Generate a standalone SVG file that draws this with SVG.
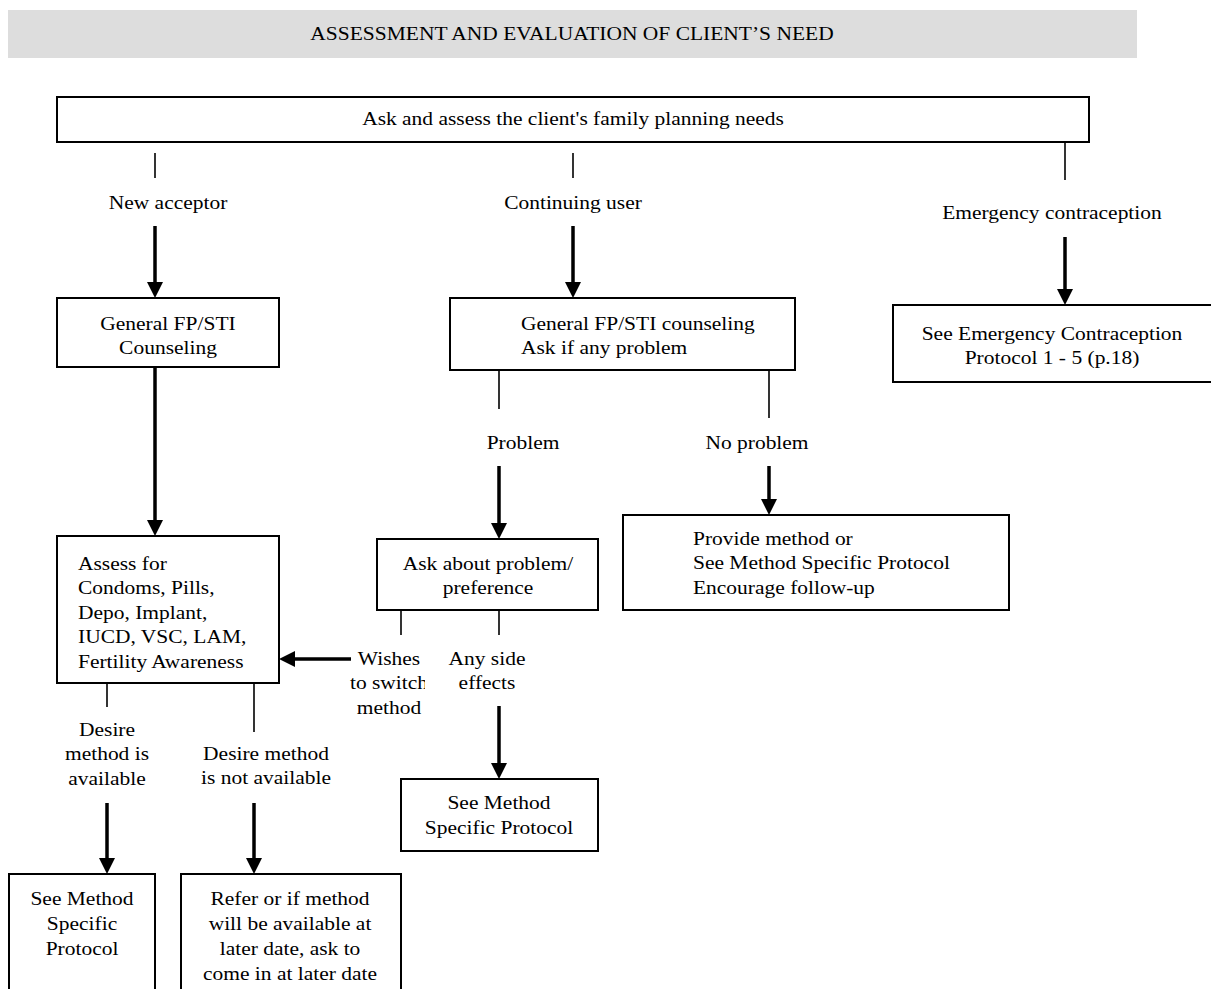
<svg xmlns="http://www.w3.org/2000/svg" width="1211" height="989" viewBox="0 0 1211 989">
<style>
text{font-family:"Liberation Serif","Times New Roman",serif;font-size:19px;fill:#000}
.c{text-anchor:middle}
.box{fill:#fff;stroke:#000;stroke-width:2}
.tick{stroke:#000;stroke-width:1.6;fill:none}
.arr{stroke:#000;stroke-width:3.5;fill:none;marker-end:url(#ah)}
</style>
<defs>
<marker id="ah" markerUnits="userSpaceOnUse" viewBox="0 0 16 16" refX="6" refY="8" markerWidth="16" markerHeight="16" orient="auto">
<path d="M0,0 L16,8 L0,16 z" fill="#000"/>
</marker>
<clipPath id="swclip"><rect x="330" y="660" width="95" height="40"/></clipPath>
</defs>
<rect width="1211" height="989" fill="#fff"/>

<g id="banner">
<rect x="8" y="10" width="1129" height="48" fill="#dddddd"/>
<text class="c" transform="translate(572,40) scale(1.13,1)">ASSESSMENT AND EVALUATION OF CLIENT’S NEED</text>
</g>

<g id="connectors">
<line class="tick" x1="155" y1="153" x2="155" y2="178"/>
<line class="tick" x1="573" y1="153" x2="573" y2="178"/>
<line class="tick" x1="1065" y1="142" x2="1065" y2="180"/>
<line class="tick" x1="499" y1="370" x2="499" y2="409"/>
<line class="tick" x1="769" y1="370" x2="769" y2="418"/>
<line class="tick" x1="401" y1="610" x2="401" y2="635"/>
<line class="tick" x1="499" y1="610" x2="499" y2="635"/>
<line class="tick" x1="107" y1="683" x2="107" y2="707"/>
<line class="tick" x1="254" y1="683" x2="254" y2="732"/>
<line class="arr" x1="155" y1="226" x2="155" y2="288"/>
<line class="arr" x1="573" y1="226" x2="573" y2="288"/>
<line class="arr" x1="1065" y1="237" x2="1065" y2="295"/>
<line class="arr" x1="155" y1="367" x2="155" y2="526"/>
<line class="arr" x1="499" y1="466" x2="499" y2="529"/>
<line class="arr" x1="769" y1="466" x2="769" y2="505"/>
<line class="arr" x1="351" y1="659" x2="289" y2="659"/>
<line class="arr" x1="499" y1="706" x2="499" y2="769"/>
<line class="arr" x1="107" y1="803" x2="107" y2="864"/>
<line class="arr" x1="254" y1="803" x2="254" y2="864"/>
</g>

<g id="labels">
<text class="c" transform="translate(168,209) scale(1.13,1)">New acceptor</text>
<text class="c" transform="translate(573,209) scale(1.13,1)">Continuing user</text>
<text class="c" transform="translate(1052,219) scale(1.13,1)">Emergency contraception</text>
<text class="c" transform="translate(523,449) scale(1.13,1)">Problem</text>
<text class="c" transform="translate(757,449) scale(1.13,1)">No problem</text>
<text class="c" transform="translate(389,665) scale(1.13,1)">Wishes</text>
<g clip-path="url(#swclip)"><text class="c" transform="translate(389,689) scale(1.13,1)">to switch</text></g>
<text class="c" transform="translate(389,714) scale(1.13,1)">method</text>
<text class="c" transform="translate(487,665) scale(1.13,1)">Any side<tspan x="0" dy="24.5">effects</tspan></text>
<text class="c" transform="translate(107,736) scale(1.13,1)">Desire<tspan x="0" dy="24.5">method is</tspan><tspan x="0" dy="24.5">available</tspan></text>
<text class="c" transform="translate(266,760) scale(1.13,1)">Desire method<tspan x="0" dy="24.5">is not available</tspan></text>
</g>

<g id="n-ask">
<rect class="box" x="57" y="97" width="1032" height="45"/>
<text class="c" transform="translate(573,125) scale(1.13,1)">Ask and assess the client's family planning needs</text>
</g>

<g id="n-general-new">
<rect class="box" x="57" y="298" width="222" height="69"/>
<text class="c" transform="translate(168,330) scale(1.13,1)">General FP/STI<tspan x="0" dy="24">Counseling</tspan></text>
</g>

<g id="n-general-cont">
<rect class="box" x="450" y="298" width="345" height="72"/>
<text transform="translate(521,330) scale(1.13,1)">General FP/STI counseling<tspan x="0" dy="24">Ask if any problem</tspan></text>
</g>

<g id="n-emergency">
<rect class="box" x="893" y="305" width="330" height="77"/>
<text class="c" transform="translate(1052,340) scale(1.13,1)">See Emergency Contraception<tspan x="0" dy="24">Protocol 1 - 5 (p.18)</tspan></text>
</g>

<g id="n-assess">
<rect class="box" x="57" y="536" width="222" height="147"/>
<text transform="translate(78,570) scale(1.13,1)">Assess for<tspan x="0" dy="24.5">Condoms, Pills,</tspan><tspan x="0" dy="24.5">Depo, Implant,</tspan><tspan x="0" dy="24.5">IUCD, VSC, LAM,</tspan><tspan x="0" dy="24.5">Fertility Awareness</tspan></text>
</g>

<g id="n-askabout">
<rect class="box" x="377" y="539" width="221" height="71"/>
<text class="c" transform="translate(488,570) scale(1.13,1)">Ask about problem/<tspan x="0" dy="24">preference</tspan></text>
</g>

<g id="n-provide">
<rect class="box" x="623" y="515" width="386" height="95"/>
<text transform="translate(693,545) scale(1.13,1)">Provide method or<tspan x="0" dy="24.5">See Method Specific Protocol</tspan><tspan x="0" dy="24.5">Encourage follow-up</tspan></text>
</g>

<g id="n-see-mid">
<rect class="box" x="401" y="779" width="197" height="72"/>
<text class="c" transform="translate(499,809) scale(1.13,1)">See Method<tspan x="0" dy="25">Specific Protocol</tspan></text>
</g>

<g id="n-see-left">
<rect class="box" x="9" y="874" width="146" height="130"/>
<text class="c" transform="translate(82,905) scale(1.13,1)">See Method<tspan x="0" dy="25">Specific</tspan><tspan x="0" dy="25">Protocol</tspan></text>
</g>

<g id="n-refer">
<rect class="box" x="181" y="874" width="220" height="130"/>
<text class="c" transform="translate(290,905) scale(1.13,1)">Refer or if method<tspan x="0" dy="25">will be available at</tspan><tspan x="0" dy="25">later date, ask to</tspan><tspan x="0" dy="25">come in at later date</tspan></text>
</g>
</svg>
